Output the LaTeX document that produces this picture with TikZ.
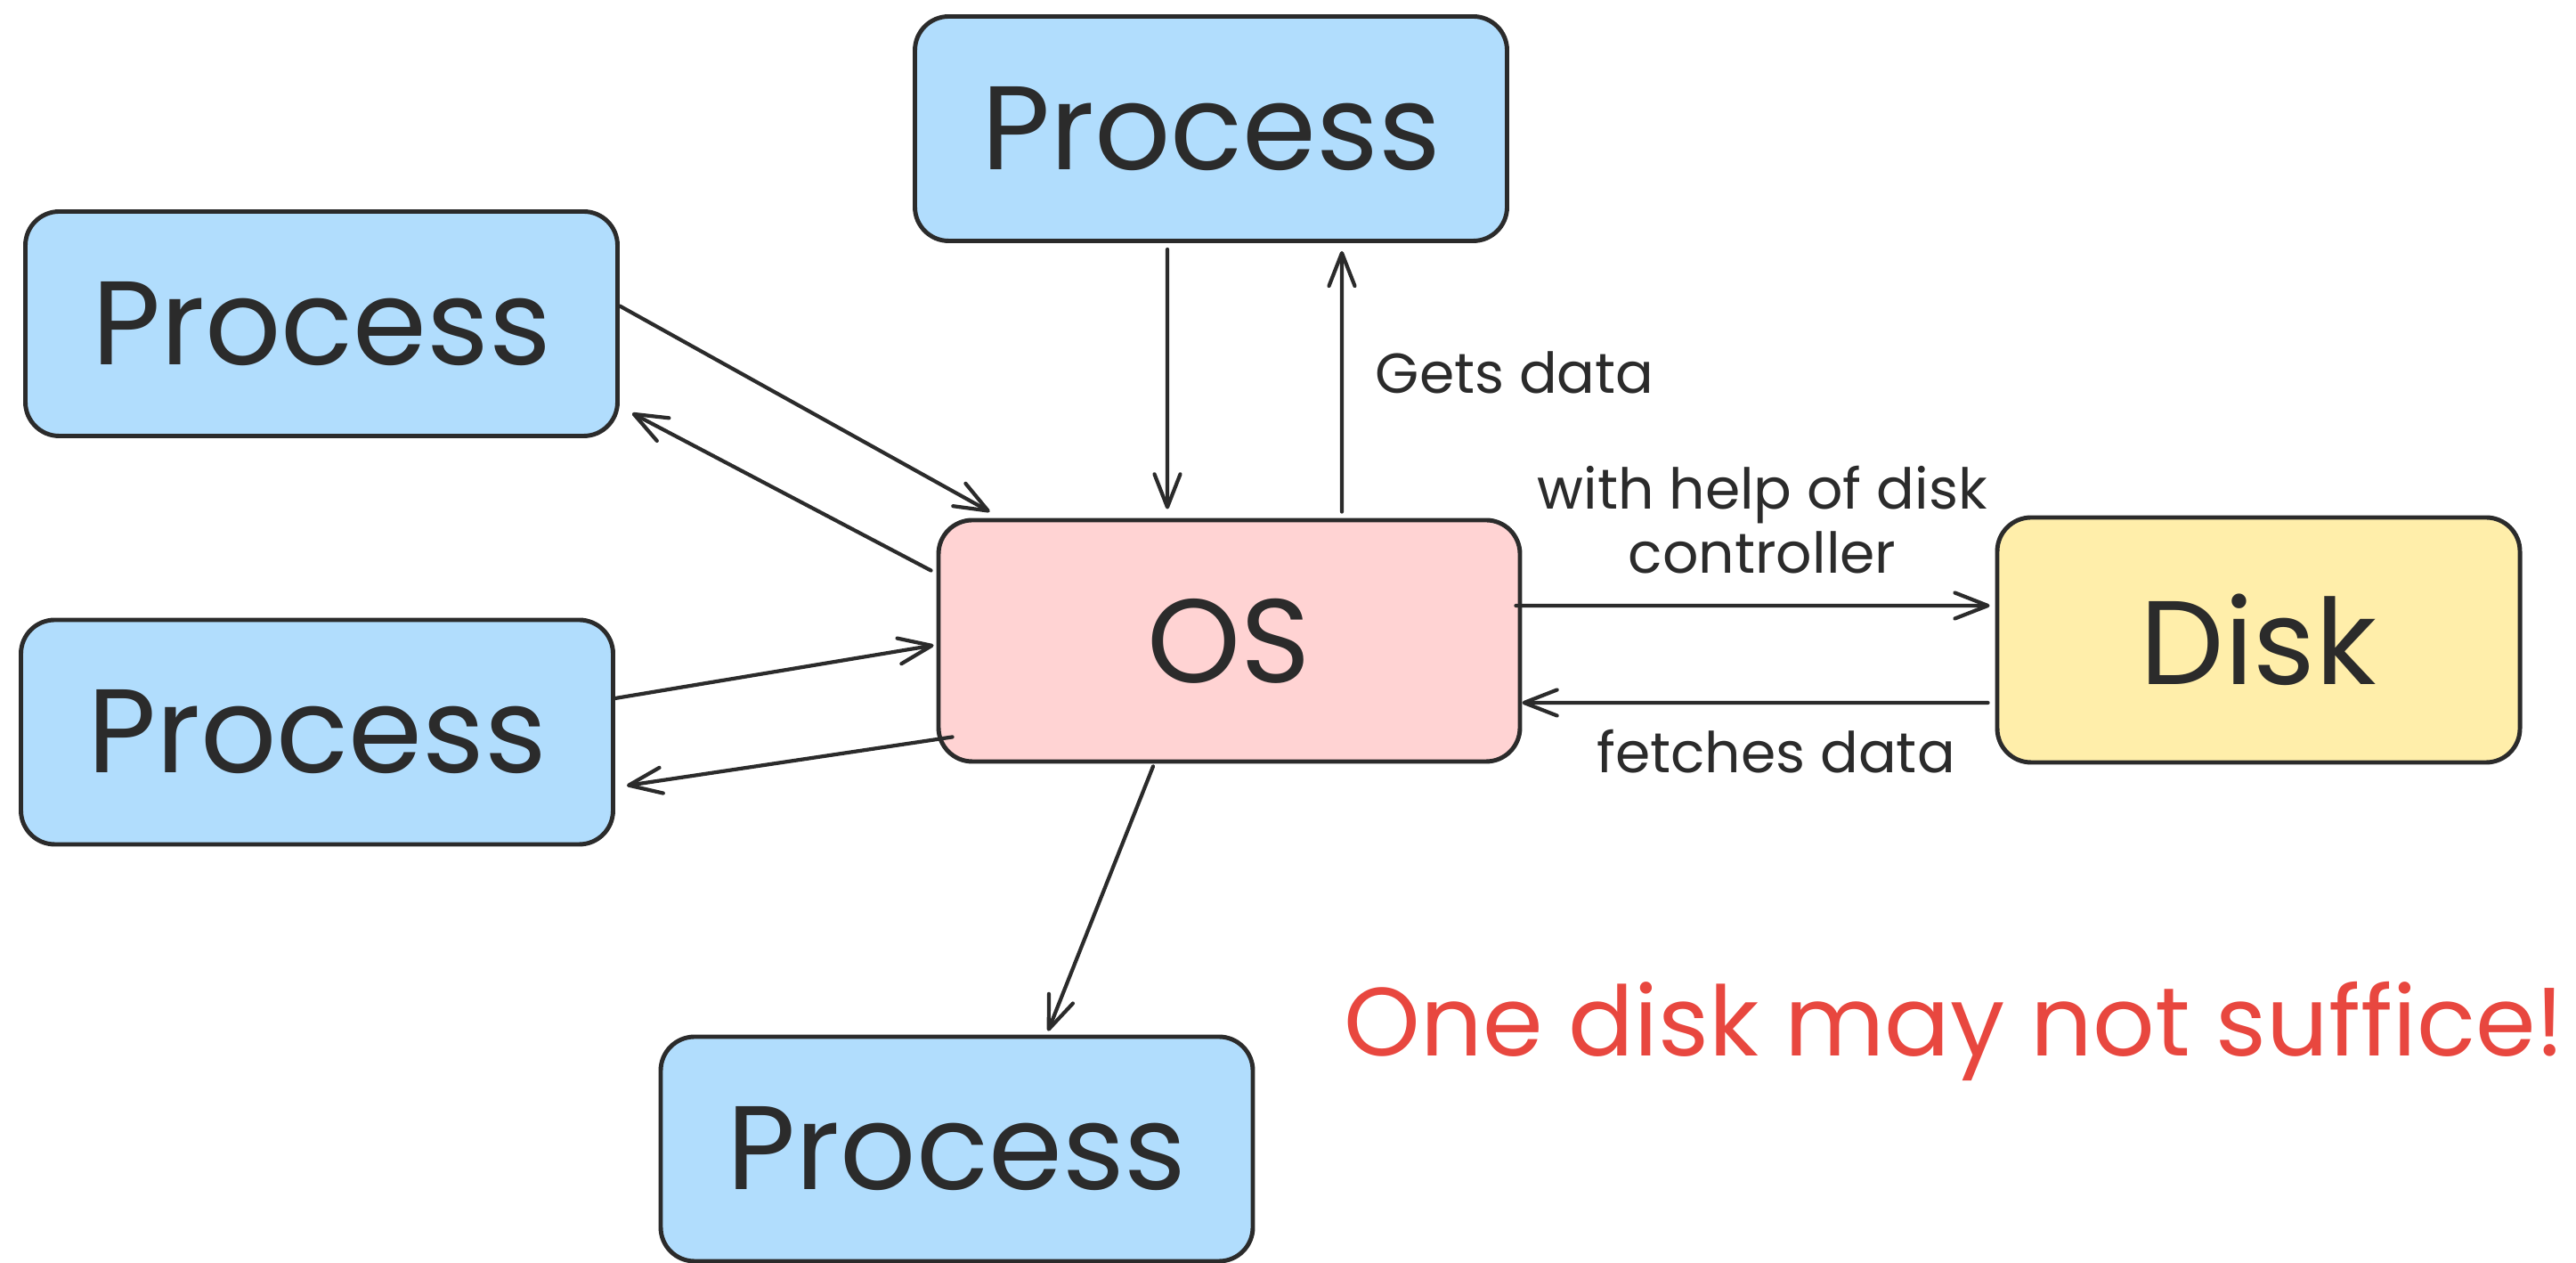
\documentclass[tikz,border=0pt]{standalone}
\usepackage{fontspec}
\setmainfont{Poppins}
\usetikzlibrary{arrows.meta}
\definecolor{procblue}{HTML}{B1DDFD}
\definecolor{ospink}{HTML}{FFD3D3}
\definecolor{diskyellow}{HTML}{FFEEAA}
\definecolor{ink}{HTML}{2B2B2B}
\definecolor{warnred}{HTML}{E8473F}
\tikzstyle{box} = [
    draw=ink,
    line width=1.4pt,
    rectangle,
    rounded corners=3.8mm,
    minimum width=66.5mm,
    minimum height=25.2mm,
    text=ink,
    font=\fontsize{38}{40}\selectfont
]
\tikzstyle{process} = [box, fill=procblue]
\tikzstyle{system} = [box, fill=ospink, minimum width=65.3mm, minimum height=27.1mm]
\tikzstyle{storage} = [box, fill=diskyellow, minimum width=58.7mm, minimum height=27.5mm]
\tikzstyle{note} = [text=ink, font=\fontsize{18}{20.5}\selectfont, align=center]
\tikzstyle{link} = [
    draw=ink,
    line width=1.2pt,
    line cap=round,
    -{Straight Barb[length=3.7mm, width=2.9mm, round]}
]

\begin{document}
\begin{tikzpicture}
    \useasboundingbox (0, 0) rectangle (28.93, 14.18);

    % Boxes.
    \node (top process) [process] at (13.60, 12.735) {Process};
    \node (left top) [process] at (3.61, 10.545) {Process};
    \node (left bottom) [process] at (3.56, 5.96) {Process};
    \node (bottom process) [process] at (10.745, 1.28) {Process};
    \node (os) [system] at (13.805, 6.985) {OS};
    \node (disk) [storage] at (25.365, 6.995) {Disk};

    % Paths.

    % Processes on the left.
    \draw [link] ([yshift=2mm]left top.east) -- ([shift={(6mm, 0.7mm)}]os.north west);
    \draw [link] ([shift={(-0.6mm, -5.9mm)}]os.north west) -- ([shift={(1.4mm, 2.8mm)}]left top.south east);
    \draw [link] ([yshift=3.8mm]left bottom.east) -- ([shift={(-0.3mm, -0.5mm)}]os.west);
    \draw [link] ([shift={(1.8mm, 3mm)}]os.south west) -- ([shift={(1.3mm, -6mm)}]left bottom.east);

    % Top and bottom.
    \draw [link] ([shift={(-4.9mm, -0.7mm)}]top process.south) -- ([shift={(-6.95mm, 1mm)}]os.north);
    \draw [link] ([shift={(12.65mm, 0.7mm)}]os.north) -- node [note, right=2.4mm, pos=0.535] {Gets data} ([shift={(14.7mm, -0.9mm)}]top process.south);
    \draw [link] ([shift={(-8.55mm, -0.3mm)}]os.south) -- ([shift={(10.25mm, 0.4mm)}]bottom process.north);

    % Disk.
    \draw [link] ([shift={(-0.7mm, 3.95mm)}]os.east) -- node [note, above=2.2mm, pos=0.52] {with help of disk\\controller} ([shift={(-0.6mm, 3.85mm)}]disk.west);
    \draw [link] ([shift={(-0.8mm, -7.05mm)}]disk.west) -- node [note, below=1.6mm, pos=0.455] {fetches data} ([yshift=-6.95mm]os.east);

    % Warning.
    \node (warning) [text=warnred, font=\fontsize{31}{35}\selectfont] at (21.95, 2.60) {One disk may not suffice!};
\end{tikzpicture}
\end{document}
